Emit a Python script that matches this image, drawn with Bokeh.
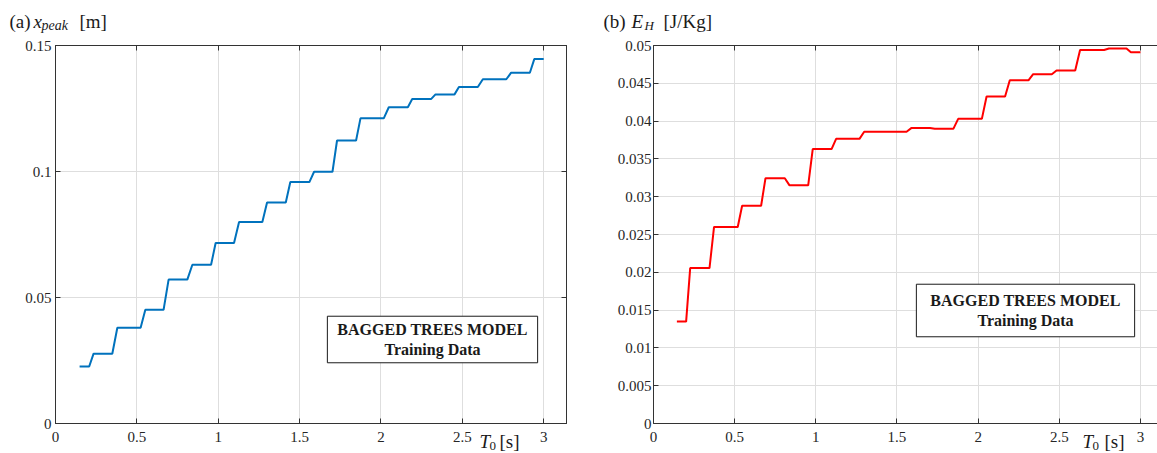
from bokeh.plotting import figure
from bokeh.models import (Range1d, FixedTicker, LinearAxis, Label, CustomJSTickFormatter,
                          GridBox, ColumnDataSource)
from bokeh.core.properties import value
from bokeh.embed import file_html
from bokeh.resources import INLINE

# ---------------- data ----------------
# (a) peak displacement x_peak [m] vs T0 [s]
T_a = [0.148, 0.207, 0.234, 0.349, 0.38, 0.523, 0.552, 0.664, 0.695, 0.81,
       0.841, 0.956, 0.984, 1.097, 1.128, 1.271, 1.30, 1.415, 1.443, 1.56,
       1.589, 1.702, 1.73, 1.847, 1.874, 2.017, 2.048, 2.165, 2.192, 2.309,
       2.335, 2.452, 2.479, 2.595, 2.626, 2.77, 2.80, 2.915, 2.942, 3.0]
x_peak = [0.0226, 0.0226, 0.0277, 0.0277, 0.038, 0.038, 0.0451, 0.0451, 0.0571, 0.0571,
          0.063, 0.063, 0.0716, 0.0716, 0.080, 0.080, 0.0877, 0.0877, 0.0958, 0.0958,
          0.0999, 0.0999, 0.1123, 0.1123, 0.1211, 0.1211, 0.1255, 0.1255, 0.1288, 0.1288,
          0.1306, 0.1306, 0.1335, 0.1335, 0.1366, 0.1366, 0.1392, 0.1392, 0.1446, 0.1446]

# (b) hysteretic energy E_H [J/Kg] vs T0 [s]
T_b = [0.144, 0.201, 0.226, 0.345, 0.373, 0.519, 0.546, 0.663, 0.69, 0.809,
       0.838, 0.953, 0.981, 1.097, 1.125, 1.269, 1.298, 1.559, 1.59, 1.704,
       1.733, 1.848, 1.877, 2.023, 2.052, 2.166, 2.195, 2.31, 2.339, 2.454,
       2.483, 2.598, 2.628, 2.776, 2.806, 2.914, 2.941, 3.0]
E_H = [0.01348, 0.01348, 0.02056, 0.02056, 0.026, 0.026, 0.0288, 0.0288, 0.03245, 0.03245,
       0.0315, 0.0315, 0.0363, 0.0363, 0.03765, 0.03765, 0.0386, 0.0386, 0.0391, 0.0391,
       0.039, 0.039, 0.0403, 0.0403, 0.04325, 0.04325, 0.0454, 0.0454, 0.0462, 0.0462,
       0.0467, 0.0467, 0.0494, 0.0494, 0.0496, 0.0496, 0.0491, 0.0491]

x_ticks = [0, 0.5, 1, 1.5, 2, 2.5, 3]
y_ticks_a = [0, 0.05, 0.1, 0.15]
y_ticks_b = [0, 0.005, 0.01, 0.015, 0.02, 0.025, 0.03, 0.035, 0.04, 0.045, 0.05]

box_text = "BAGGED TREES MODEL\nTraining Data"

# outer text pieces (title / axis-name fragments with mixed styles)
piece_text = ["(a)", "x", "peak", "[m]", "T", "0", "[s]",
              "(b)", "E", "H", "[J/Kg]", "T", "0", "[s]"]
piece_style = ["normal", "italic", "italic", "normal", "italic", "normal", "normal",
               "normal", "italic", "italic", "normal", "italic", "normal", "normal"]
piece_size = ["19px", "19px", "14px", "19px", "19px", "13px", "19px",
              "19px", "19px", "13px", "19px", "19px", "13px", "19px"]
piece_x = [9, 33, 41, 79, 479, 489, 499,
           603, 631, 644, 663, 1082, 1092, 1104]
piece_y = [21, 21, 25, 21, 441, 445, 441,
           21, 21, 25, 21, 441, 445, 441]

# ---------------- styling ----------------
FONT = "Liberation Serif"
AX = "#333333"
GRID = "#dedede"
fmt = CustomJSTickFormatter(code="return (+tick.toFixed(6)).toString();")
blank = CustomJSTickFormatter(code="return '';")


def style_axis(ax, ticks, show_labels=True, standoff=8):
    ax.ticker = FixedTicker(ticks=ticks)
    ax.axis_line_color = AX
    ax.axis_line_width = 1
    ax.major_tick_line_color = AX
    ax.major_tick_in = 5
    ax.major_tick_out = 0
    ax.minor_tick_line_color = None
    ax.major_label_text_font = FONT
    ax.major_label_text_color = "#262626"
    ax.major_label_text_font_style = "normal"
    ax.major_label_text_font_size = "15px"
    if show_labels:
        ax.formatter = fmt
        ax.major_label_standoff = standoff
    else:
        ax.formatter = blank
        ax.major_label_standoff = 0


def make_fig(width, left, right, top, bottom, x_end, y_end, y_ticks, ystand, outline):
    p = figure(width=width, height=453, x_range=Range1d(0, x_end), y_range=Range1d(0, y_end),
               output_backend="svg", toolbar_location=None,
               min_border_left=left, min_border_right=right,
               min_border_top=top, min_border_bottom=bottom)
    p.background_fill_color = "white"
    p.border_fill_color = "white"
    p.outline_line_color = AX if outline else None
    style_axis(p.xaxis[0], x_ticks, True, 8)
    style_axis(p.yaxis[0], y_ticks, True, ystand)
    top_ax = LinearAxis()
    style_axis(top_ax, x_ticks, False)
    p.add_layout(top_ax, "above")
    if outline:
        right_ax = LinearAxis()
        style_axis(right_ax, y_ticks, False)
        p.add_layout(right_ax, "right")
    p.xgrid.ticker = FixedTicker(ticks=x_ticks)
    p.ygrid.ticker = FixedTicker(ticks=y_ticks)
    p.xgrid.grid_line_color = GRID
    p.ygrid.grid_line_color = GRID
    p.xgrid.grid_line_width = 1
    p.ygrid.grid_line_width = 1
    return p


def box(p, x, y, padx, pady):
    p.add_layout(Label(x=x, y=y, x_units="screen", y_units="screen", text=box_text,
                       text_font=FONT, text_font_size="16px", text_font_style="bold",
                       text_color="#1a1a1a", text_align="center", text_baseline="middle",
                       text_line_height=1.15,
                       border_line_color="#1a1a1a", border_line_width=1,
                       background_fill_color="white",
                       padding=dict(left=padx, right=padx, top=pady, bottom=pady)))


# ---------------- (a) ----------------
p1 = make_fig(580, 55, 14, 45, 30, 3.14, 0.15, y_ticks_a, 4, True)
p1.line(T_a, x_peak, line_color="#0072BD", line_width=2)
box(p1, 377, 84, 10, 5)

# ---------------- (b) ----------------
p2 = make_fig(577, 73, 0, 45, 27, 3.105, 0.05, y_ticks_b, 2, False)
p2.line(T_b, E_H, line_color="#FF0000", line_width=2)
box(p2, 372, 113, 14, 8)

# ---------------- transparent overlay for the outer texts ----------------
ov = figure(width=1157, height=453, x_range=Range1d(0, 1157), y_range=Range1d(453, 0),
            x_axis_type=None, y_axis_type=None, output_backend="svg", toolbar_location=None,
            min_border=0, min_border_left=0, min_border_right=0,
            min_border_top=0, min_border_bottom=0)
ov.frame_align = False
ov.outline_line_color = None
ov.background_fill_alpha = 0
ov.border_fill_alpha = 0
ov.grid.visible = False
src = ColumnDataSource(dict(x=piece_x, y=piece_y, text=piece_text,
                            style=piece_style, size=piece_size))
ov.text(x="x", y="y", text="text", source=src, text_font=value(FONT),
        text_font_style="style", text_font_size="size", text_color="#1a1a1a",
        text_align="left", text_baseline="alphabetic")

layout = GridBox(children=[(p1, 0, 0), (p2, 0, 1), (ov, 0, 0, 1, 2)])
open("out.html", "w").write(file_html(layout, INLINE))
